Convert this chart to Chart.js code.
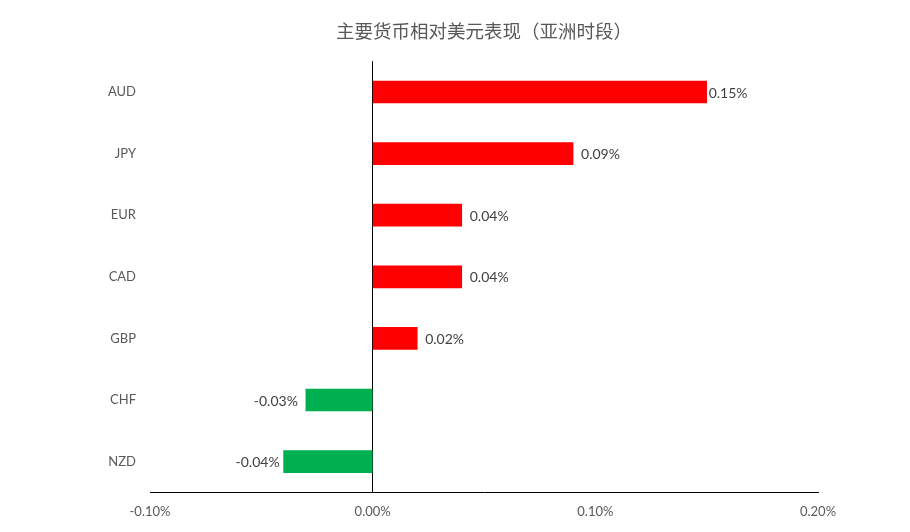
<!DOCTYPE html>
<html lang="zh">
<head>
    <meta charset="UTF-8">
    <script src="https://cdn.jsdelivr.net/npm/chart.js"></script>
    <style>
        body { margin: 0; background: #fff; }
        #wrap { width: 910px; height: 532px; }
    </style>
</head>
<body>
    <div id="wrap"><canvas id="chart"></canvas></div>

    <script>
        const categories = ['AUD', 'JPY', 'EUR', 'CAD', 'GBP', 'CHF', 'NZD'];
        const changes = [0.15, 0.09, 0.04, 0.04, 0.02, -0.03, -0.04];
        const tickValues = [-0.1, 0, 0.1, 0.2];
        const tickLabels = ['-0.10%', '0.00%', '0.10%', '0.20%'];

        const UP = '#ff0000';
        const DOWN = '#00b050';
        const FONT = 'Lato, "Noto Sans", sans-serif';

        // value labels outside the end of each bar; the two extreme bars sit tighter
        const barLabels = {
            id: 'barLabels',
            afterDatasetsDraw(chart) {
                const ctx = chart.ctx;
                const meta = chart.getDatasetMeta(0);
                const hi = Math.max(...changes), lo = Math.min(...changes);
                ctx.save();
                ctx.font = '14px ' + FONT;
                ctx.fillStyle = '#404040';
                ctx.textBaseline = 'middle';
                meta.data.forEach((bar, i) => {
                    const v = changes[i];
                    const text = v.toFixed(2) + '%';
                    if (v >= 0) {
                        ctx.textAlign = 'left';
                        ctx.fillText(text, bar.x + (v === hi ? 2 : 8), bar.y + 1);
                    } else {
                        ctx.textAlign = 'right';
                        ctx.fillText(text, bar.x - (v === lo ? 4 : 8), bar.y + 1);
                    }
                });
                ctx.restore();
            }
        };

        const ctx = document.getElementById('chart').getContext('2d');
        const chart = new Chart(ctx, {
            type: 'bar',
            data: {
                labels: categories,
                datasets: [{
                    data: changes,
                    backgroundColor: changes.map(v => v >= 0 ? UP : DOWN),
                    barThickness: 22
                }]
            },
            options: {
                indexAxis: 'y',
                responsive: true,
                maintainAspectRatio: false,
                animation: false,
                layout: {
                    padding: { left: 0, right: 92, top: 0, bottom: 0 }
                },
                plugins: {
                    legend: { display: false },
                    tooltip: { enabled: false },
                    title: {
                        display: true,
                        text: '主要货币相对美元表现（亚洲时段）',
                        color: '#595959',
                        fullSize: false,
                        font: { family: '"Noto Sans CJK SC", sans-serif', size: 18.5, weight: 'normal' },
                        padding: { top: 20, bottom: 19 }
                    }
                },
                scales: {
                    x: {
                        min: -0.1,
                        max: 0.2,
                        afterBuildTicks: scale => {
                            scale.ticks = tickValues.map(v => ({ value: v }));
                        },
                        ticks: {
                            color: '#595959',
                            padding: 12,
                            font: { family: FONT, size: 13 },
                            callback: (value, index) => tickLabels[index]
                        },
                        grid: {
                            drawTicks: false,
                            color: c => c.tick && c.tick.value === 0 ? '#000000' : 'rgba(0,0,0,0)'
                        },
                        border: { display: true, color: '#000000', width: 1 }
                    },
                    y: {
                        afterFit: scale => { scale.width = 150; },
                        ticks: {
                            color: '#595959',
                            padding: 14,
                            font: { family: FONT, size: 13 }
                        },
                        grid: { display: false, drawTicks: false },
                        border: { display: false }
                    }
                }
            },
            plugins: [barLabels]
        });
    </script>
</body>
</html>
